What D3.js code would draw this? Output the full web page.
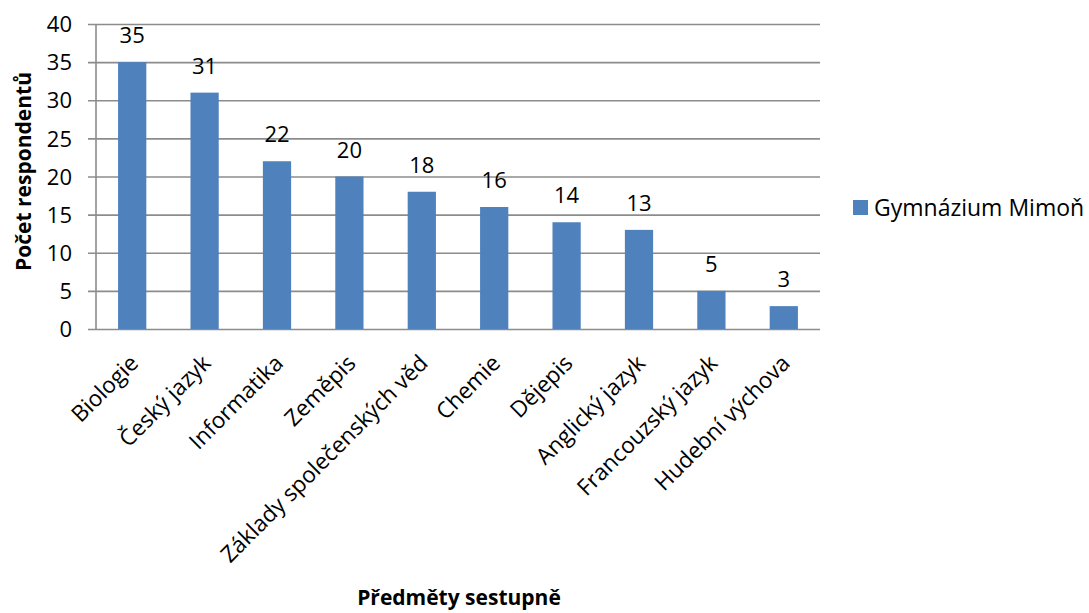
<!DOCTYPE html>
<html>
<head>
<meta charset="utf-8">
<script src="https://cdn.jsdelivr.net/npm/d3@7"></script>
<style>
  body { margin: 0; background: #fff; }
  text { font-family: "Open Sans", "Liberation Sans", sans-serif; fill: #000; }
</style>
</head>
<body>
<svg id="chart" width="1089" height="613"></svg>
<script>
// Subjects sorted by number of respondents
const categories = ["Biologie", "Český jazyk", "Informatika", "Zeměpis", "Základy společenských věd",
  "Chemie", "Dějepis", "Anglický jazyk", "Francouzský jazyk", "Hudební výchova"];
const values = [35, 31, 22, 20, 18, 16, 14, 13, 5, 3];
const yTicks = [0, 5, 10, 15, 20, 25, 30, 35, 40];
const seriesName = "Gymnázium Mimoň";

const svg = d3.select("#chart");
const margin = { left: 96, right: 269, top: 24, bottom: 284 };
const W = 1089, H = 613;
const color = "#4f81bd";
const gridColor = "#8c8c8c";

const x = d3.scaleBand().domain(categories)
  .range([margin.left, W - margin.right]).paddingInner(0.61).paddingOuter(0.305);
const y = d3.scaleLinear().domain([0, 40]).range([H - margin.bottom, margin.top]);

// horizontal gridlines with short outward ticks
const yAxis = d3.axisLeft(y).tickValues(yTicks).tickSize(-(W - margin.right - margin.left)).tickPadding(24);
const gy = svg.append("g").attr("transform", `translate(${margin.left},0)`).call(yAxis);
gy.select(".domain").remove();
gy.selectAll(".tick line").attr("stroke", gridColor).attr("stroke-width", 1.6).attr("x1", -8);
gy.selectAll(".tick text").style("font-size", "22px").attr("fill", "#000").attr("dy", "0.35em");

// vertical value axis line
svg.append("line")
  .attr("x1", margin.left).attr("x2", margin.left)
  .attr("y1", y(40)).attr("y2", y(0))
  .attr("stroke", gridColor).attr("stroke-width", 1.6);

// bars
svg.append("g").selectAll("rect").data(values).join("rect")
  .attr("x", (d, i) => x(categories[i]))
  .attr("y", d => y(d))
  .attr("width", x.bandwidth())
  .attr("height", d => y(0) - y(d))
  .attr("fill", color);

// value labels
svg.append("g").selectAll("text").data(values).join("text")
  .attr("x", (d, i) => x(categories[i]) + x.bandwidth() / 2)
  .attr("y", d => y(d) - 19)
  .attr("text-anchor", "middle")
  .style("font-size", "22px")
  .text(d => d);

// rotated category labels
svg.append("g").selectAll("text").data(categories).join("text")
  .attr("transform", d => `translate(${x(d) + x.bandwidth() / 2 + 2},${y(0) + 30}) rotate(-45)`)
  .attr("text-anchor", "end")
  .attr("dy", "0.35em")
  .style("font-size", "22.5px")
  .text(d => d);

// axis titles
svg.append("text")
  .attr("transform", `translate(31,${(y(0) + y(40)) / 2 - 5}) rotate(-90)`)
  .attr("text-anchor", "middle")
  .style("font-size", "21px").style("font-weight", "bold")
  .text("Počet respondentů");

svg.append("text")
  .attr("x", 459).attr("y", 605)
  .attr("text-anchor", "middle")
  .style("font-size", "21px").style("font-weight", "bold")
  .text("Předměty sestupně");

// legend
const lg = svg.append("g").attr("transform", "translate(853,200)");
lg.append("rect").attr("width", 15).attr("height", 15).attr("fill", color);
lg.append("text").attr("x", 21).attr("y", 16).style("font-size", "23px").text(seriesName);
</script>
</body>
</html>
